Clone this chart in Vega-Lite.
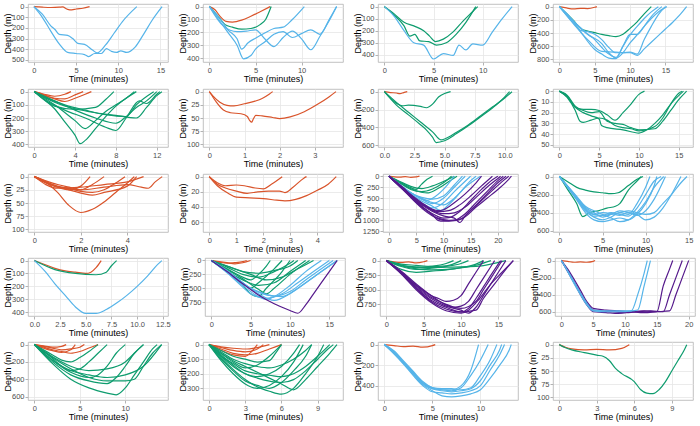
{
"$schema":"https://vega.github.io/schema/vega-lite/v6.json",
"padding":{"left":2,"top":2,"right":0,"bottom":0},
"background":"white",
"config":{
"view":{"stroke":"#b3b3b3","strokeWidth":0.8},
"axis":{"labelFont":"Liberation Sans","labelFontSize":7.5,"labelColor":"#4d4d4d","titleFont":"Liberation Sans","titleFontSize":9,"titleFontWeight":"normal","titleColor":"#000000","tickColor":"#b3b3b3","tickSize":3,"domain":false,"gridColor":"#e6e6e6","gridWidth":0.8,"labelPadding":1,"titlePadding":1,"labelFlush":false,"format":"d"},
"axisY":{"minExtent":15,"maxExtent":15},
"axisX":{"minExtent":11,"maxExtent":11},
"line":{"strokeWidth":1.2,"interpolate":"monotone","clip":true}
},
"datasets":{
"p1":[
{"id":1,"g":"A","t":0,"d":0},{"id":1,"g":"A","t":1,"d":5},{"id":1,"g":"A","t":2,"d":8},{"id":1,"g":"A","t":3,"d":5},{"id":1,"g":"A","t":3.4,"d":2},{"id":1,"g":"A","t":4,"d":25},{"id":1,"g":"A","t":4.5,"d":30},{"id":1,"g":"A","t":5,"d":22},{"id":1,"g":"A","t":5.8,"d":15},{"id":1,"g":"A","t":6.6,"d":0},
{"id":2,"g":"C","t":0,"d":0},{"id":2,"g":"C","t":1,"d":70},{"id":2,"g":"C","t":2,"d":180},{"id":2,"g":"C","t":2.5,"d":215},{"id":2,"g":"C","t":3,"d":260},{"id":2,"g":"C","t":4,"d":270},{"id":2,"g":"C","t":4.6,"d":300},{"id":2,"g":"C","t":5.2,"d":345},{"id":2,"g":"C","t":6,"d":355},{"id":2,"g":"C","t":7,"d":410},{"id":2,"g":"C","t":7.5,"d":435},{"id":2,"g":"C","t":8.5,"d":360},{"id":2,"g":"C","t":9.5,"d":250},{"id":2,"g":"C","t":10.5,"d":140},{"id":2,"g":"C","t":12.2,"d":0},
{"id":3,"g":"C","t":0,"d":0},{"id":3,"g":"C","t":1,"d":100},{"id":3,"g":"C","t":2,"d":230},{"id":3,"g":"C","t":3,"d":350},{"id":3,"g":"C","t":4,"d":430},{"id":3,"g":"C","t":5,"d":440},{"id":3,"g":"C","t":6,"d":450},{"id":3,"g":"C","t":6.5,"d":470},{"id":3,"g":"C","t":7.2,"d":440},{"id":3,"g":"C","t":8,"d":440},{"id":3,"g":"C","t":8.6,"d":395},{"id":3,"g":"C","t":9.2,"d":420},{"id":3,"g":"C","t":9.8,"d":430},{"id":3,"g":"C","t":10.3,"d":415},{"id":3,"g":"C","t":11,"d":430},{"id":3,"g":"C","t":12,"d":380},{"id":3,"g":"C","t":13,"d":260},{"id":3,"g":"C","t":14,"d":130},{"id":3,"g":"C","t":15.2,"d":0}
],
"p2":[
{"id":1,"g":"A","t":0,"d":0},{"id":1,"g":"A","t":0.6,"d":25},{"id":1,"g":"A","t":1.2,"d":80},{"id":1,"g":"A","t":1.8,"d":115},{"id":1,"g":"A","t":2.5,"d":120},{"id":1,"g":"A","t":3.5,"d":105},{"id":1,"g":"A","t":4.5,"d":75},{"id":1,"g":"A","t":5.5,"d":40},{"id":1,"g":"A","t":6.6,"d":0},
{"id":2,"g":"B","t":0,"d":0},{"id":2,"g":"B","t":1,"d":80},{"id":2,"g":"B","t":1.7,"d":140},{"id":2,"g":"B","t":2.5,"d":160},{"id":2,"g":"B","t":3.5,"d":175},{"id":2,"g":"B","t":4.5,"d":170},{"id":2,"g":"B","t":5.5,"d":140},{"id":2,"g":"B","t":6.1,"d":100},{"id":2,"g":"B","t":6.7,"d":0},
{"id":3,"g":"C","t":0,"d":0},{"id":3,"g":"C","t":1,"d":80},{"id":3,"g":"C","t":2,"d":180},{"id":3,"g":"C","t":3,"d":250},{"id":3,"g":"C","t":3.5,"d":330},{"id":3,"g":"C","t":4.2,"d":280},{"id":3,"g":"C","t":5,"d":245},{"id":3,"g":"C","t":6,"d":205},{"id":3,"g":"C","t":7,"d":170},{"id":3,"g":"C","t":8,"d":160},{"id":3,"g":"C","t":9,"d":100},{"id":3,"g":"C","t":10.3,"d":0},
{"id":4,"g":"C","t":0,"d":0},{"id":4,"g":"C","t":1,"d":100},{"id":4,"g":"C","t":2,"d":200},{"id":4,"g":"C","t":3,"d":300},{"id":4,"g":"C","t":3.7,"d":405},{"id":4,"g":"C","t":4.5,"d":380},{"id":4,"g":"C","t":5,"d":330},{"id":4,"g":"C","t":6,"d":275},{"id":4,"g":"C","t":7,"d":215},{"id":4,"g":"C","t":8,"d":195},{"id":4,"g":"C","t":9,"d":240},{"id":4,"g":"C","t":10,"d":210},{"id":4,"g":"C","t":11,"d":180},{"id":4,"g":"C","t":12,"d":215},{"id":4,"g":"C","t":13,"d":100},{"id":4,"g":"C","t":13.8,"d":0},
{"id":5,"g":"C","t":0,"d":0},{"id":5,"g":"C","t":1.5,"d":150},{"id":5,"g":"C","t":3,"d":195},{"id":5,"g":"C","t":4,"d":190},{"id":5,"g":"C","t":5,"d":180},{"id":5,"g":"C","t":6,"d":250},{"id":5,"g":"C","t":7,"d":310},{"id":5,"g":"C","t":8,"d":240},{"id":5,"g":"C","t":9,"d":190},{"id":5,"g":"C","t":10,"d":250},{"id":5,"g":"C","t":11,"d":335},{"id":5,"g":"C","t":12,"d":230},{"id":5,"g":"C","t":13,"d":110},{"id":5,"g":"C","t":13.8,"d":0}
],
"p3":[
{"id":1,"g":"B","t":0,"d":0},{"id":1,"g":"B","t":1,"d":60},{"id":1,"g":"B","t":2,"d":130},{"id":1,"g":"B","t":3,"d":160},{"id":1,"g":"B","t":4,"d":200},{"id":1,"g":"B","t":4.6,"d":245},{"id":1,"g":"B","t":5.2,"d":290},{"id":1,"g":"B","t":6,"d":270},{"id":1,"g":"B","t":7,"d":210},{"id":1,"g":"B","t":8,"d":120},{"id":1,"g":"B","t":9,"d":40},{"id":1,"g":"B","t":9.5,"d":0},
{"id":2,"g":"B","t":0,"d":0},{"id":2,"g":"B","t":1,"d":70},{"id":2,"g":"B","t":2,"d":160},{"id":2,"g":"B","t":2.6,"d":245},{"id":2,"g":"B","t":3.1,"d":230},{"id":2,"g":"B","t":3.6,"d":285},{"id":2,"g":"B","t":4.5,"d":290},{"id":2,"g":"B","t":5.3,"d":320},{"id":2,"g":"B","t":6.3,"d":300},{"id":2,"g":"B","t":7.3,"d":230},{"id":2,"g":"B","t":8.3,"d":130},{"id":2,"g":"B","t":9.3,"d":0},
{"id":3,"g":"C","t":0,"d":0},{"id":3,"g":"C","t":1,"d":80},{"id":3,"g":"C","t":2,"d":200},{"id":3,"g":"C","t":3,"d":300},{"id":3,"g":"C","t":4,"d":320},{"id":3,"g":"C","t":5,"d":435},{"id":3,"g":"C","t":6,"d":390},{"id":3,"g":"C","t":7,"d":405},{"id":3,"g":"C","t":7.6,"d":320},{"id":3,"g":"C","t":8.3,"d":360},{"id":3,"g":"C","t":9,"d":310},{"id":3,"g":"C","t":10,"d":320},{"id":3,"g":"C","t":11,"d":210},{"id":3,"g":"C","t":12,"d":100},{"id":3,"g":"C","t":13,"d":0}
],
"p4":[
{"id":1,"g":"A","t":0,"d":0},{"id":1,"g":"A","t":1,"d":20},{"id":1,"g":"A","t":2,"d":35},{"id":1,"g":"A","t":3,"d":25},{"id":1,"g":"A","t":4,"d":30},{"id":1,"g":"A","t":5,"d":10},{"id":1,"g":"A","t":5.3,"d":0},
{"id":2,"g":"B","t":0,"d":0},{"id":2,"g":"B","t":2,"d":210},{"id":2,"g":"B","t":3,"d":330},{"id":2,"g":"B","t":4,"d":370},{"id":2,"g":"B","t":5,"d":395},{"id":2,"g":"B","t":6,"d":420},{"id":2,"g":"B","t":7,"d":440},{"id":2,"g":"B","t":8,"d":455},{"id":2,"g":"B","t":9,"d":420},{"id":2,"g":"B","t":10,"d":330},{"id":2,"g":"B","t":11,"d":230},{"id":2,"g":"B","t":12,"d":110},{"id":2,"g":"B","t":13,"d":0},
{"id":3,"g":"C","t":0,"d":0},{"id":3,"g":"C","t":1,"d":100},{"id":3,"g":"C","t":2,"d":220},{"id":3,"g":"C","t":3,"d":320},{"id":3,"g":"C","t":4,"d":420},{"id":3,"g":"C","t":5,"d":500},{"id":3,"g":"C","t":6,"d":620},{"id":3,"g":"C","t":7,"d":720},{"id":3,"g":"C","t":8,"d":770},{"id":3,"g":"C","t":9,"d":600},{"id":3,"g":"C","t":10,"d":430},{"id":3,"g":"C","t":11,"d":300},{"id":3,"g":"C","t":12,"d":180},{"id":3,"g":"C","t":13,"d":80},{"id":3,"g":"C","t":14,"d":0},
{"id":4,"g":"C","t":0,"d":0},{"id":4,"g":"C","t":2,"d":250},{"id":4,"g":"C","t":3,"d":360},{"id":4,"g":"C","t":4,"d":380},{"id":4,"g":"C","t":5,"d":420},{"id":4,"g":"C","t":6,"d":500},{"id":4,"g":"C","t":7,"d":620},{"id":4,"g":"C","t":8,"d":700},{"id":4,"g":"C","t":9,"d":700},{"id":4,"g":"C","t":10,"d":690},{"id":4,"g":"C","t":11,"d":720},{"id":4,"g":"C","t":12,"d":500},{"id":4,"g":"C","t":13,"d":300},{"id":4,"g":"C","t":14,"d":120},{"id":4,"g":"C","t":15,"d":0},
{"id":5,"g":"C","t":0,"d":0},{"id":5,"g":"C","t":2,"d":230},{"id":5,"g":"C","t":3,"d":380},{"id":5,"g":"C","t":5,"d":650},{"id":5,"g":"C","t":6,"d":720},{"id":5,"g":"C","t":7,"d":780},{"id":5,"g":"C","t":8,"d":790},{"id":5,"g":"C","t":9,"d":600},{"id":5,"g":"C","t":10,"d":420},{"id":5,"g":"C","t":11,"d":420},{"id":5,"g":"C","t":12,"d":300},{"id":5,"g":"C","t":13,"d":180},{"id":5,"g":"C","t":14,"d":80},{"id":5,"g":"C","t":15.2,"d":0},
{"id":6,"g":"C","t":0,"d":0},{"id":6,"g":"C","t":2,"d":260},{"id":6,"g":"C","t":4,"d":500},{"id":6,"g":"C","t":6,"d":680},{"id":6,"g":"C","t":8,"d":690},{"id":6,"g":"C","t":9,"d":700},{"id":6,"g":"C","t":10,"d":700},{"id":6,"g":"C","t":11,"d":740},{"id":6,"g":"C","t":12,"d":640},{"id":6,"g":"C","t":13,"d":540},{"id":6,"g":"C","t":14,"d":440},{"id":6,"g":"C","t":15,"d":340},{"id":6,"g":"C","t":16,"d":240},{"id":6,"g":"C","t":17,"d":130},{"id":6,"g":"C","t":18,"d":0},
{"id":7,"g":"C","t":0,"d":0},{"id":7,"g":"C","t":2,"d":220},{"id":7,"g":"C","t":4,"d":420},{"id":7,"g":"C","t":6,"d":560},{"id":7,"g":"C","t":7,"d":700},{"id":7,"g":"C","t":8,"d":780},{"id":7,"g":"C","t":9,"d":700},{"id":7,"g":"C","t":10,"d":550},{"id":7,"g":"C","t":11,"d":430},{"id":7,"g":"C","t":12,"d":300},{"id":7,"g":"C","t":13,"d":150},{"id":7,"g":"C","t":14.5,"d":0}
],
"p5":[
{"id":1,"g":"A","t":0,"d":0},{"id":1,"g":"A","t":1,"d":20},{"id":1,"g":"A","t":2,"d":35},{"id":1,"g":"A","t":3,"d":20},{"id":1,"g":"A","t":3.6,"d":0},
{"id":2,"g":"A","t":0,"d":0},{"id":2,"g":"A","t":1,"d":30},{"id":2,"g":"A","t":2,"d":50},{"id":2,"g":"A","t":3,"d":55},{"id":2,"g":"A","t":4,"d":25},{"id":2,"g":"A","t":4.8,"d":0},
{"id":3,"g":"A","t":0,"d":0},{"id":3,"g":"A","t":1,"d":25},{"id":3,"g":"A","t":2,"d":55},{"id":3,"g":"A","t":3,"d":75},{"id":3,"g":"A","t":4,"d":50},{"id":3,"g":"A","t":5,"d":20},{"id":3,"g":"A","t":5.6,"d":0},
{"id":4,"g":"B","t":0,"d":0},{"id":4,"g":"B","t":1,"d":60},{"id":4,"g":"B","t":2,"d":130},{"id":4,"g":"B","t":3,"d":230},{"id":4,"g":"B","t":4,"d":330},{"id":4,"g":"B","t":4.5,"d":395},{"id":4,"g":"B","t":5,"d":370},{"id":4,"g":"B","t":6,"d":280},{"id":4,"g":"B","t":7,"d":190},{"id":4,"g":"B","t":8,"d":110},{"id":4,"g":"B","t":9,"d":50},{"id":4,"g":"B","t":10,"d":0},
{"id":5,"g":"B","t":0,"d":0},{"id":5,"g":"B","t":2,"d":110},{"id":5,"g":"B","t":4,"d":135},{"id":5,"g":"B","t":6,"d":120},{"id":5,"g":"B","t":7,"d":60},{"id":5,"g":"B","t":7.8,"d":0},
{"id":6,"g":"B","t":0,"d":0},{"id":6,"g":"B","t":1,"d":60},{"id":6,"g":"B","t":3,"d":140},{"id":6,"g":"B","t":5,"d":200},{"id":6,"g":"B","t":7,"d":270},{"id":6,"g":"B","t":8,"d":295},{"id":6,"g":"B","t":9,"d":200},{"id":6,"g":"B","t":10.3,"d":70},{"id":6,"g":"B","t":11,"d":90},{"id":6,"g":"B","t":12,"d":20},{"id":6,"g":"B","t":12.3,"d":0},
{"id":7,"g":"B","t":0,"d":0},{"id":7,"g":"B","t":2,"d":80},{"id":7,"g":"B","t":4,"d":130},{"id":7,"g":"B","t":6,"d":160},{"id":7,"g":"B","t":8,"d":180},{"id":7,"g":"B","t":10,"d":200},{"id":7,"g":"B","t":11,"d":120},{"id":7,"g":"B","t":12,"d":30},{"id":7,"g":"B","t":12.5,"d":0},
{"id":8,"g":"B","t":0,"d":0},{"id":8,"g":"B","t":2,"d":100},{"id":8,"g":"B","t":4,"d":220},{"id":8,"g":"B","t":5,"d":280},{"id":8,"g":"B","t":6,"d":220},{"id":8,"g":"B","t":7,"d":150},{"id":8,"g":"B","t":8,"d":100},{"id":8,"g":"B","t":9,"d":50},{"id":8,"g":"B","t":9.8,"d":0},
{"id":9,"g":"B","t":0,"d":0},{"id":9,"g":"B","t":1,"d":40},{"id":9,"g":"B","t":3,"d":100},{"id":9,"g":"B","t":5,"d":140},{"id":9,"g":"B","t":7,"d":175},{"id":9,"g":"B","t":9,"d":190},{"id":9,"g":"B","t":10,"d":100},{"id":9,"g":"B","t":11.7,"d":0},
{"id":10,"g":"B","t":0,"d":0},{"id":10,"g":"B","t":2,"d":70},{"id":10,"g":"B","t":4,"d":140},{"id":10,"g":"B","t":6,"d":200},{"id":10,"g":"B","t":8,"d":240},{"id":10,"g":"B","t":9,"d":190},{"id":10,"g":"B","t":10,"d":120},{"id":10,"g":"B","t":11,"d":70},{"id":10,"g":"B","t":12,"d":0}
],
"p6":[
{"id":1,"g":"A","t":0,"d":0},{"id":1,"g":"A","t":0.1,"d":8},{"id":1,"g":"A","t":0.3,"d":20},{"id":1,"g":"A","t":0.5,"d":26},{"id":1,"g":"A","t":0.7,"d":27},{"id":1,"g":"A","t":1,"d":23},{"id":1,"g":"A","t":1.3,"d":18},{"id":1,"g":"A","t":1.5,"d":13},{"id":1,"g":"A","t":1.7,"d":5},{"id":1,"g":"A","t":1.8,"d":0},
{"id":2,"g":"A","t":0,"d":0},{"id":2,"g":"A","t":0.05,"d":5},{"id":2,"g":"A","t":0.2,"d":20},{"id":2,"g":"A","t":0.4,"d":35},{"id":2,"g":"A","t":0.6,"d":40},{"id":2,"g":"A","t":0.9,"d":42},{"id":2,"g":"A","t":1.08,"d":47},{"id":2,"g":"A","t":1.15,"d":55},{"id":2,"g":"A","t":1.2,"d":58},{"id":2,"g":"A","t":1.25,"d":52},{"id":2,"g":"A","t":1.32,"d":45},{"id":2,"g":"A","t":1.5,"d":46},{"id":2,"g":"A","t":1.8,"d":49},{"id":2,"g":"A","t":2,"d":51},{"id":2,"g":"A","t":2.3,"d":48},{"id":2,"g":"A","t":2.7,"d":38},{"id":2,"g":"A","t":3.1,"d":23},{"id":2,"g":"A","t":3.4,"d":10},{"id":2,"g":"A","t":3.6,"d":0}
],
"p7":[
{"id":1,"g":"A","t":0,"d":0},{"id":1,"g":"A","t":0.5,"d":10},{"id":1,"g":"A","t":1,"d":15},{"id":1,"g":"A","t":1.3,"d":22},{"id":1,"g":"A","t":1.6,"d":10},{"id":1,"g":"A","t":1.9,"d":0},
{"id":2,"g":"B","t":0,"d":0},{"id":2,"g":"B","t":1,"d":130},{"id":2,"g":"B","t":1.5,"d":160},{"id":2,"g":"B","t":2,"d":150},{"id":2,"g":"B","t":3,"d":165},{"id":2,"g":"B","t":3.5,"d":180},{"id":2,"g":"B","t":4,"d":140},{"id":2,"g":"B","t":4.5,"d":60},{"id":2,"g":"B","t":5,"d":20},{"id":2,"g":"B","t":5.5,"d":0},
{"id":3,"g":"B","t":0,"d":0},{"id":3,"g":"B","t":1,"d":150},{"id":3,"g":"B","t":2,"d":260},{"id":3,"g":"B","t":3,"d":370},{"id":3,"g":"B","t":3.5,"d":430},{"id":3,"g":"B","t":4,"d":510},{"id":3,"g":"B","t":4.3,"d":570},{"id":3,"g":"B","t":5,"d":550},{"id":3,"g":"B","t":6,"d":470},{"id":3,"g":"B","t":7,"d":380},{"id":3,"g":"B","t":8,"d":280},{"id":3,"g":"B","t":9,"d":180},{"id":3,"g":"B","t":10,"d":60},{"id":3,"g":"B","t":10.4,"d":0},
{"id":4,"g":"B","t":0,"d":0},{"id":4,"g":"B","t":1,"d":120},{"id":4,"g":"B","t":2,"d":230},{"id":4,"g":"B","t":3,"d":340},{"id":4,"g":"B","t":4,"d":450},{"id":4,"g":"B","t":4.7,"d":540},{"id":4,"g":"B","t":5,"d":530},{"id":4,"g":"B","t":6,"d":455},{"id":4,"g":"B","t":7,"d":370},{"id":4,"g":"B","t":8,"d":270},{"id":4,"g":"B","t":9,"d":170},{"id":4,"g":"B","t":10,"d":70},{"id":4,"g":"B","t":10.6,"d":0}
],
"p8":[
{"id":1,"g":"B","t":0,"d":0},{"id":1,"g":"B","t":1,"d":5},{"id":1,"g":"B","t":2,"d":15},{"id":1,"g":"B","t":3,"d":17},{"id":1,"g":"B","t":4,"d":17},{"id":1,"g":"B","t":5,"d":18},{"id":1,"g":"B","t":6,"d":22},{"id":1,"g":"B","t":7,"d":27},{"id":1,"g":"B","t":8,"d":20},{"id":1,"g":"B","t":9,"d":12},{"id":1,"g":"B","t":10,"d":3},{"id":1,"g":"B","t":10.7,"d":0},
{"id":2,"g":"B","t":0,"d":0},{"id":2,"g":"B","t":1,"d":6},{"id":2,"g":"B","t":2,"d":18},{"id":2,"g":"B","t":2.6,"d":28},{"id":2,"g":"B","t":3,"d":29},{"id":2,"g":"B","t":4,"d":27},{"id":2,"g":"B","t":5,"d":25},{"id":2,"g":"B","t":6,"d":27},{"id":2,"g":"B","t":7,"d":32},{"id":2,"g":"B","t":8,"d":34},{"id":2,"g":"B","t":9,"d":35},{"id":2,"g":"B","t":10,"d":37},{"id":2,"g":"B","t":12,"d":33},{"id":2,"g":"B","t":13,"d":25},{"id":2,"g":"B","t":14,"d":12},{"id":2,"g":"B","t":15,"d":2},{"id":2,"g":"B","t":15.4,"d":0},
{"id":3,"g":"B","t":0,"d":0},{"id":3,"g":"B","t":1,"d":5},{"id":3,"g":"B","t":2,"d":15},{"id":3,"g":"B","t":3,"d":20},{"id":3,"g":"B","t":4,"d":23},{"id":3,"g":"B","t":5,"d":26},{"id":3,"g":"B","t":5.3,"d":32},{"id":3,"g":"B","t":6,"d":34},{"id":3,"g":"B","t":8,"d":36},{"id":3,"g":"B","t":10,"d":39},{"id":3,"g":"B","t":11,"d":36},{"id":3,"g":"B","t":12,"d":30},{"id":3,"g":"B","t":13,"d":22},{"id":3,"g":"B","t":14,"d":12},{"id":3,"g":"B","t":15.6,"d":0},
{"id":4,"g":"B","t":0,"d":0},{"id":4,"g":"B","t":1,"d":4},{"id":4,"g":"B","t":2,"d":14},{"id":4,"g":"B","t":3,"d":18},{"id":4,"g":"B","t":4,"d":20},{"id":4,"g":"B","t":5,"d":19},{"id":4,"g":"B","t":6,"d":28},{"id":4,"g":"B","t":7,"d":30},{"id":4,"g":"B","t":8,"d":31},{"id":4,"g":"B","t":9,"d":34},{"id":4,"g":"B","t":10,"d":36},{"id":4,"g":"B","t":12,"d":35},{"id":4,"g":"B","t":13,"d":28},{"id":4,"g":"B","t":14,"d":18},{"id":4,"g":"B","t":15,"d":8},{"id":4,"g":"B","t":16,"d":0}
],
"p9":[
{"id":1,"g":"A","t":0,"d":0},{"id":1,"g":"A","t":0.5,"d":10},{"id":1,"g":"A","t":1,"d":30},{"id":1,"g":"A","t":1.5,"d":55},{"id":1,"g":"A","t":2,"d":68},{"id":1,"g":"A","t":2.5,"d":62},{"id":1,"g":"A","t":3,"d":48},{"id":1,"g":"A","t":3.5,"d":30},{"id":1,"g":"A","t":4,"d":12},{"id":1,"g":"A","t":4.3,"d":0},
{"id":2,"g":"A","t":0,"d":0},{"id":2,"g":"A","t":0.5,"d":10},{"id":2,"g":"A","t":1,"d":20},{"id":2,"g":"A","t":1.5,"d":25},{"id":2,"g":"A","t":2,"d":18},{"id":2,"g":"A","t":2.4,"d":0},
{"id":3,"g":"A","t":0,"d":0},{"id":3,"g":"A","t":0.5,"d":8},{"id":3,"g":"A","t":1,"d":15},{"id":3,"g":"A","t":1.5,"d":20},{"id":3,"g":"A","t":2,"d":25},{"id":3,"g":"A","t":2.5,"d":15},{"id":3,"g":"A","t":3,"d":0},
{"id":4,"g":"A","t":0,"d":0},{"id":4,"g":"A","t":0.5,"d":12},{"id":4,"g":"A","t":1,"d":20},{"id":4,"g":"A","t":1.5,"d":22},{"id":4,"g":"A","t":2,"d":28},{"id":4,"g":"A","t":2.5,"d":30},{"id":4,"g":"A","t":3,"d":25},{"id":4,"g":"A","t":3.5,"d":12},{"id":4,"g":"A","t":3.9,"d":0},
{"id":5,"g":"A","t":0,"d":0},{"id":5,"g":"A","t":1,"d":22},{"id":5,"g":"A","t":2,"d":20},{"id":5,"g":"A","t":3,"d":15},{"id":5,"g":"A","t":4,"d":10},{"id":5,"g":"A","t":4.7,"d":0},
{"id":6,"g":"A","t":0,"d":0},{"id":6,"g":"A","t":1,"d":18},{"id":6,"g":"A","t":2,"d":25},{"id":6,"g":"A","t":3,"d":20},{"id":6,"g":"A","t":4,"d":15},{"id":6,"g":"A","t":4.6,"d":20},{"id":6,"g":"A","t":4.9,"d":22},{"id":6,"g":"A","t":5.2,"d":10},{"id":6,"g":"A","t":5.5,"d":0},
{"id":7,"g":"A","t":0,"d":0},{"id":7,"g":"A","t":0.7,"d":15},{"id":7,"g":"A","t":1.5,"d":25},{"id":7,"g":"A","t":2.5,"d":35},{"id":7,"g":"A","t":3,"d":30},{"id":7,"g":"A","t":4,"d":18},{"id":7,"g":"A","t":4.4,"d":0}
],
"p10":[
{"id":1,"g":"A","t":0,"d":0},{"id":1,"g":"A","t":0.3,"d":8},{"id":1,"g":"A","t":0.6,"d":12},{"id":1,"g":"A","t":1,"d":11},{"id":1,"g":"A","t":1.3,"d":12},{"id":1,"g":"A","t":1.7,"d":15},{"id":1,"g":"A","t":2,"d":16},{"id":1,"g":"A","t":2.3,"d":10},{"id":1,"g":"A","t":2.7,"d":0},
{"id":2,"g":"A","t":0,"d":0},{"id":2,"g":"A","t":0.3,"d":10},{"id":2,"g":"A","t":0.6,"d":15},{"id":2,"g":"A","t":1,"d":19},{"id":2,"g":"A","t":1.4,"d":22},{"id":2,"g":"A","t":1.8,"d":20},{"id":2,"g":"A","t":2.2,"d":19},{"id":2,"g":"A","t":2.6,"d":19},{"id":2,"g":"A","t":2.8,"d":21},{"id":2,"g":"A","t":3.1,"d":14},{"id":2,"g":"A","t":3.5,"d":2},{"id":2,"g":"A","t":3.6,"d":0},
{"id":3,"g":"A","t":0,"d":0},{"id":3,"g":"A","t":0.3,"d":12},{"id":3,"g":"A","t":0.7,"d":22},{"id":3,"g":"A","t":1,"d":27},{"id":3,"g":"A","t":1.5,"d":28},{"id":3,"g":"A","t":2,"d":29},{"id":3,"g":"A","t":2.5,"d":31},{"id":3,"g":"A","t":2.8,"d":32},{"id":3,"g":"A","t":3.2,"d":30},{"id":3,"g":"A","t":3.6,"d":25},{"id":3,"g":"A","t":4,"d":18},{"id":3,"g":"A","t":4.4,"d":10},{"id":3,"g":"A","t":4.7,"d":0}
],
"p11":[
{"id":1,"g":"A","t":0,"d":0},{"id":1,"g":"A","t":1,"d":15},{"id":1,"g":"A","t":2,"d":20},{"id":1,"g":"A","t":3,"d":10},{"id":1,"g":"A","t":4,"d":25},{"id":1,"g":"A","t":5,"d":15},{"id":1,"g":"A","t":5.6,"d":0},
{"id":2,"g":"B","t":0,"d":0},{"id":2,"g":"B","t":2,"d":130},{"id":2,"g":"B","t":4,"d":260},{"id":2,"g":"B","t":5,"d":300},{"id":2,"g":"B","t":6,"d":180},{"id":2,"g":"B","t":7,"d":70},{"id":2,"g":"B","t":8,"d":0},
{"id":3,"g":"B","t":0,"d":0},{"id":3,"g":"B","t":2,"d":120},{"id":3,"g":"B","t":4,"d":230},{"id":3,"g":"B","t":6,"d":280},{"id":3,"g":"B","t":8,"d":220},{"id":3,"g":"B","t":10,"d":120},{"id":3,"g":"B","t":12,"d":0},
{"id":4,"g":"B","t":0,"d":0},{"id":4,"g":"B","t":3,"d":220},{"id":4,"g":"B","t":5,"d":330},{"id":4,"g":"B","t":7,"d":380},{"id":4,"g":"B","t":9,"d":280},{"id":4,"g":"B","t":11,"d":120},{"id":4,"g":"B","t":12.5,"d":0},
{"id":5,"g":"B","t":0,"d":0},{"id":5,"g":"B","t":2,"d":150},{"id":5,"g":"B","t":4,"d":300},{"id":5,"g":"B","t":6,"d":350},{"id":5,"g":"B","t":8,"d":290},{"id":5,"g":"B","t":10,"d":150},{"id":5,"g":"B","t":11.5,"d":0},
{"id":6,"g":"C","t":0,"d":0},{"id":6,"g":"C","t":3,"d":300},{"id":6,"g":"C","t":5,"d":450},{"id":6,"g":"C","t":7,"d":550},{"id":6,"g":"C","t":8,"d":500},{"id":6,"g":"C","t":10,"d":300},{"id":6,"g":"C","t":12,"d":0},
{"id":7,"g":"C","t":0,"d":0},{"id":7,"g":"C","t":3,"d":280},{"id":7,"g":"C","t":6,"d":520},{"id":7,"g":"C","t":8,"d":620},{"id":7,"g":"C","t":10,"d":500},{"id":7,"g":"C","t":12,"d":250},{"id":7,"g":"C","t":14,"d":0},
{"id":8,"g":"C","t":0,"d":0},{"id":8,"g":"C","t":3,"d":330},{"id":8,"g":"C","t":6,"d":600},{"id":8,"g":"C","t":8,"d":720},{"id":8,"g":"C","t":10,"d":600},{"id":8,"g":"C","t":12,"d":350},{"id":8,"g":"C","t":15,"d":0},
{"id":9,"g":"C","t":0,"d":0},{"id":9,"g":"C","t":3,"d":320},{"id":9,"g":"C","t":6,"d":560},{"id":9,"g":"C","t":8,"d":680},{"id":9,"g":"C","t":9.5,"d":780},{"id":9,"g":"C","t":11,"d":640},{"id":9,"g":"C","t":13,"d":380},{"id":9,"g":"C","t":15,"d":100},{"id":9,"g":"C","t":16,"d":0},
{"id":10,"g":"C","t":0,"d":0},{"id":10,"g":"C","t":3,"d":300},{"id":10,"g":"C","t":6,"d":500},{"id":10,"g":"C","t":8,"d":600},{"id":10,"g":"C","t":10,"d":650},{"id":10,"g":"C","t":12,"d":500},{"id":10,"g":"C","t":14,"d":250},{"id":10,"g":"C","t":16.8,"d":0},
{"id":11,"g":"C","t":0,"d":0},{"id":11,"g":"C","t":2,"d":200},{"id":11,"g":"C","t":4,"d":380},{"id":11,"g":"C","t":6,"d":480},{"id":11,"g":"C","t":8,"d":520},{"id":11,"g":"C","t":10,"d":450},{"id":11,"g":"C","t":12,"d":200},{"id":11,"g":"C","t":13.5,"d":0},
{"id":12,"g":"D","t":0,"d":0},{"id":12,"g":"D","t":3,"d":350},{"id":12,"g":"D","t":6,"d":700},{"id":12,"g":"D","t":8,"d":850},{"id":12,"g":"D","t":10,"d":950},{"id":12,"g":"D","t":11,"d":940},{"id":12,"g":"D","t":13,"d":800},{"id":12,"g":"D","t":15,"d":550},{"id":12,"g":"D","t":17,"d":300},{"id":12,"g":"D","t":19,"d":80},{"id":12,"g":"D","t":20,"d":0},
{"id":13,"g":"D","t":0,"d":0},{"id":13,"g":"D","t":3,"d":330},{"id":13,"g":"D","t":6,"d":680},{"id":13,"g":"D","t":8,"d":880},{"id":13,"g":"D","t":9,"d":1000},{"id":13,"g":"D","t":10,"d":1020},{"id":13,"g":"D","t":12,"d":1000},{"id":13,"g":"D","t":14,"d":850},{"id":13,"g":"D","t":16,"d":600},{"id":13,"g":"D","t":18,"d":350},{"id":13,"g":"D","t":20,"d":100},{"id":13,"g":"D","t":21,"d":0},
{"id":14,"g":"D","t":0,"d":0},{"id":14,"g":"D","t":3,"d":340},{"id":14,"g":"D","t":6,"d":650},{"id":14,"g":"D","t":8,"d":800},{"id":14,"g":"D","t":10,"d":900},{"id":14,"g":"D","t":12,"d":950},{"id":14,"g":"D","t":13,"d":1050},{"id":14,"g":"D","t":14,"d":900},{"id":14,"g":"D","t":16,"d":650},{"id":14,"g":"D","t":18,"d":400},{"id":14,"g":"D","t":20,"d":150},{"id":14,"g":"D","t":21.5,"d":0},
{"id":15,"g":"D","t":0,"d":0},{"id":15,"g":"D","t":3,"d":320},{"id":15,"g":"D","t":6,"d":620},{"id":15,"g":"D","t":8,"d":780},{"id":15,"g":"D","t":10,"d":850},{"id":15,"g":"D","t":12,"d":830},{"id":15,"g":"D","t":14,"d":700},{"id":15,"g":"D","t":16,"d":480},{"id":15,"g":"D","t":18,"d":250},{"id":15,"g":"D","t":20,"d":50},{"id":15,"g":"D","t":20.5,"d":0},
{"id":16,"g":"D","t":0,"d":0},{"id":16,"g":"D","t":3,"d":300},{"id":16,"g":"D","t":5,"d":550},{"id":16,"g":"D","t":7,"d":700},{"id":16,"g":"D","t":9,"d":800},{"id":16,"g":"D","t":11,"d":780},{"id":16,"g":"D","t":13,"d":650},{"id":16,"g":"D","t":15,"d":450},{"id":16,"g":"D","t":17,"d":220},{"id":16,"g":"D","t":19,"d":0},
{"id":17,"g":"D","t":0,"d":0},{"id":17,"g":"D","t":3,"d":360},{"id":17,"g":"D","t":6,"d":720},{"id":17,"g":"D","t":8,"d":900},{"id":17,"g":"D","t":10,"d":1000},{"id":17,"g":"D","t":12,"d":1010},{"id":17,"g":"D","t":14,"d":920},{"id":17,"g":"D","t":16,"d":700},{"id":17,"g":"D","t":18,"d":500},{"id":17,"g":"D","t":20,"d":300},{"id":17,"g":"D","t":22,"d":70},{"id":17,"g":"D","t":22.5,"d":0},
{"id":18,"g":"D","t":0,"d":0},{"id":18,"g":"D","t":3,"d":320},{"id":18,"g":"D","t":6,"d":600},{"id":18,"g":"D","t":8,"d":750},{"id":18,"g":"D","t":9,"d":780},{"id":18,"g":"D","t":10,"d":760},{"id":18,"g":"D","t":12,"d":600},{"id":18,"g":"D","t":14,"d":400},{"id":18,"g":"D","t":16,"d":150},{"id":18,"g":"D","t":17,"d":0},
{"id":19,"g":"D","t":0,"d":0},{"id":19,"g":"D","t":3,"d":340},{"id":19,"g":"D","t":6,"d":680},{"id":19,"g":"D","t":9,"d":950},{"id":19,"g":"D","t":11,"d":1000},{"id":19,"g":"D","t":13,"d":980},{"id":19,"g":"D","t":15,"d":780},{"id":19,"g":"D","t":17,"d":550},{"id":19,"g":"D","t":19,"d":320},{"id":19,"g":"D","t":21,"d":100},{"id":19,"g":"D","t":22,"d":0}
],
"p12":[
{"id":1,"g":"B","t":0,"d":0},{"id":1,"g":"B","t":1,"d":60},{"id":1,"g":"B","t":2,"d":120},{"id":1,"g":"B","t":3,"d":150},{"id":1,"g":"B","t":4,"d":170},{"id":1,"g":"B","t":5,"d":180},{"id":1,"g":"B","t":6,"d":190},{"id":1,"g":"B","t":6.8,"d":180},{"id":1,"g":"B","t":8,"d":100},{"id":1,"g":"B","t":9,"d":30},{"id":1,"g":"B","t":9.7,"d":0},
{"id":2,"g":"B","t":0,"d":0},{"id":2,"g":"B","t":1,"d":150},{"id":2,"g":"B","t":2,"d":300},{"id":2,"g":"B","t":2.7,"d":445},{"id":2,"g":"B","t":3.5,"d":400},{"id":2,"g":"B","t":4.5,"d":380},{"id":2,"g":"B","t":5.5,"d":350},{"id":2,"g":"B","t":6.5,"d":330},{"id":2,"g":"B","t":7,"d":300},{"id":2,"g":"B","t":8,"d":150},{"id":2,"g":"B","t":9,"d":50},{"id":2,"g":"B","t":9.5,"d":0},
{"id":3,"g":"C","t":0,"d":0},{"id":3,"g":"C","t":2,"d":250},{"id":3,"g":"C","t":3,"d":380},{"id":3,"g":"C","t":4,"d":450},{"id":3,"g":"C","t":5,"d":480},{"id":3,"g":"C","t":6,"d":450},{"id":3,"g":"C","t":7,"d":400},{"id":3,"g":"C","t":8,"d":420},{"id":3,"g":"C","t":9,"d":300},{"id":3,"g":"C","t":10,"d":120},{"id":3,"g":"C","t":10.5,"d":0},
{"id":4,"g":"C","t":0,"d":0},{"id":4,"g":"C","t":2,"d":260},{"id":4,"g":"C","t":3,"d":400},{"id":4,"g":"C","t":4,"d":480},{"id":4,"g":"C","t":5,"d":500},{"id":4,"g":"C","t":6,"d":480},{"id":4,"g":"C","t":7,"d":460},{"id":4,"g":"C","t":8,"d":480},{"id":4,"g":"C","t":9,"d":420},{"id":4,"g":"C","t":10,"d":300},{"id":4,"g":"C","t":11,"d":100},{"id":4,"g":"C","t":11.3,"d":0},
{"id":5,"g":"C","t":0,"d":0},{"id":5,"g":"C","t":2,"d":240},{"id":5,"g":"C","t":3,"d":350},{"id":5,"g":"C","t":4,"d":420},{"id":5,"g":"C","t":5,"d":430},{"id":5,"g":"C","t":6,"d":400},{"id":5,"g":"C","t":7,"d":420},{"id":5,"g":"C","t":8,"d":440},{"id":5,"g":"C","t":9,"d":350},{"id":5,"g":"C","t":10,"d":200},{"id":5,"g":"C","t":11,"d":50},{"id":5,"g":"C","t":11.8,"d":0},
{"id":6,"g":"C","t":0,"d":0},{"id":6,"g":"C","t":2,"d":220},{"id":6,"g":"C","t":3,"d":330},{"id":6,"g":"C","t":4,"d":380},{"id":6,"g":"C","t":5,"d":420},{"id":6,"g":"C","t":6,"d":460},{"id":6,"g":"C","t":7,"d":500},{"id":6,"g":"C","t":8,"d":480},{"id":6,"g":"C","t":9,"d":400},{"id":6,"g":"C","t":10,"d":280},{"id":6,"g":"C","t":11,"d":120},{"id":6,"g":"C","t":12.1,"d":0},
{"id":7,"g":"C","t":0,"d":0},{"id":7,"g":"C","t":2,"d":230},{"id":7,"g":"C","t":3,"d":340},{"id":7,"g":"C","t":4,"d":400},{"id":7,"g":"C","t":5,"d":450},{"id":7,"g":"C","t":6,"d":420},{"id":7,"g":"C","t":7,"d":380},{"id":7,"g":"C","t":8,"d":400},{"id":7,"g":"C","t":9,"d":430},{"id":7,"g":"C","t":10,"d":380},{"id":7,"g":"C","t":11,"d":250},{"id":7,"g":"C","t":12.3,"d":0},
{"id":8,"g":"C","t":0,"d":0},{"id":8,"g":"C","t":2,"d":240},{"id":8,"g":"C","t":3,"d":370},{"id":8,"g":"C","t":4,"d":420},{"id":8,"g":"C","t":5,"d":400},{"id":8,"g":"C","t":6,"d":410},{"id":8,"g":"C","t":7,"d":430},{"id":8,"g":"C","t":8,"d":400},{"id":8,"g":"C","t":9,"d":420},{"id":8,"g":"C","t":10,"d":480},{"id":8,"g":"C","t":11,"d":450},{"id":8,"g":"C","t":12,"d":350},{"id":8,"g":"C","t":13,"d":200},{"id":8,"g":"C","t":14.1,"d":0},
{"id":9,"g":"C","t":0,"d":0},{"id":9,"g":"C","t":2,"d":230},{"id":9,"g":"C","t":3,"d":360},{"id":9,"g":"C","t":4,"d":440},{"id":9,"g":"C","t":5,"d":430},{"id":9,"g":"C","t":6,"d":420},{"id":9,"g":"C","t":7,"d":400},{"id":9,"g":"C","t":8,"d":380},{"id":9,"g":"C","t":9,"d":400},{"id":9,"g":"C","t":10,"d":420},{"id":9,"g":"C","t":11,"d":400},{"id":9,"g":"C","t":12,"d":300},{"id":9,"g":"C","t":13,"d":200},{"id":9,"g":"C","t":14,"d":80},{"id":9,"g":"C","t":14.8,"d":0}
],
"p13":[
{"id":1,"g":"A","t":0,"d":0},{"id":1,"g":"A","t":1,"d":30},{"id":1,"g":"A","t":2,"d":60},{"id":1,"g":"A","t":3,"d":80},{"id":1,"g":"A","t":4,"d":90},{"id":1,"g":"A","t":5,"d":100},{"id":1,"g":"A","t":5.5,"d":90},{"id":1,"g":"A","t":6,"d":55},{"id":1,"g":"A","t":6.5,"d":0},
{"id":2,"g":"B","t":0,"d":0},{"id":2,"g":"B","t":2,"d":70},{"id":2,"g":"B","t":4,"d":100},{"id":2,"g":"B","t":6,"d":110},{"id":2,"g":"B","t":7,"d":90},{"id":2,"g":"B","t":7.5,"d":40},{"id":2,"g":"B","t":8,"d":0},
{"id":3,"g":"C","t":0,"d":0},{"id":3,"g":"C","t":1,"d":80},{"id":3,"g":"C","t":2,"d":180},{"id":3,"g":"C","t":3,"d":270},{"id":3,"g":"C","t":4,"d":360},{"id":3,"g":"C","t":5,"d":410},{"id":3,"g":"C","t":6,"d":410},{"id":3,"g":"C","t":7,"d":380},{"id":3,"g":"C","t":8,"d":330},{"id":3,"g":"C","t":9,"d":270},{"id":3,"g":"C","t":10,"d":200},{"id":3,"g":"C","t":11,"d":120},{"id":3,"g":"C","t":12,"d":30},{"id":3,"g":"C","t":12.4,"d":0}
],
"p14":[
{"id":1,"g":"A","t":0,"d":0},{"id":1,"g":"A","t":1,"d":30},{"id":1,"g":"A","t":2,"d":50},{"id":1,"g":"A","t":3,"d":40},{"id":1,"g":"A","t":4,"d":20},{"id":1,"g":"A","t":4.5,"d":0},
{"id":2,"g":"A","t":0,"d":0},{"id":2,"g":"A","t":1,"d":20},{"id":2,"g":"A","t":2,"d":40},{"id":2,"g":"A","t":3,"d":60},{"id":2,"g":"A","t":4,"d":40},{"id":2,"g":"A","t":5,"d":0},
{"id":3,"g":"B","t":0,"d":0},{"id":3,"g":"B","t":2,"d":150},{"id":3,"g":"B","t":4,"d":300},{"id":3,"g":"B","t":5,"d":350},{"id":3,"g":"B","t":6,"d":250},{"id":3,"g":"B","t":7,"d":100},{"id":3,"g":"B","t":7.5,"d":0},
{"id":4,"g":"B","t":0,"d":0},{"id":4,"g":"B","t":2,"d":180},{"id":4,"g":"B","t":4,"d":400},{"id":4,"g":"B","t":5,"d":500},{"id":4,"g":"B","t":6,"d":400},{"id":4,"g":"B","t":8,"d":150},{"id":4,"g":"B","t":9,"d":0},
{"id":5,"g":"B","t":0,"d":0},{"id":5,"g":"B","t":2,"d":200},{"id":5,"g":"B","t":4,"d":450},{"id":5,"g":"B","t":5,"d":600},{"id":5,"g":"B","t":6,"d":650},{"id":5,"g":"B","t":7,"d":500},{"id":5,"g":"B","t":9,"d":200},{"id":5,"g":"B","t":10,"d":0},
{"id":6,"g":"B","t":0,"d":0},{"id":6,"g":"B","t":2,"d":120},{"id":6,"g":"B","t":4,"d":250},{"id":6,"g":"B","t":6,"d":300},{"id":6,"g":"B","t":8,"d":200},{"id":6,"g":"B","t":10,"d":50},{"id":6,"g":"B","t":10.5,"d":0},
{"id":7,"g":"B","t":0,"d":0},{"id":7,"g":"B","t":2,"d":100},{"id":7,"g":"B","t":4,"d":200},{"id":7,"g":"B","t":6,"d":230},{"id":7,"g":"B","t":8,"d":180},{"id":7,"g":"B","t":10,"d":100},{"id":7,"g":"B","t":11,"d":0},
{"id":8,"g":"B","t":0,"d":0},{"id":8,"g":"B","t":2,"d":200},{"id":8,"g":"B","t":4,"d":350},{"id":8,"g":"B","t":6,"d":450},{"id":8,"g":"B","t":8,"d":400},{"id":8,"g":"B","t":10,"d":200},{"id":8,"g":"B","t":12,"d":0},
{"id":9,"g":"B","t":0,"d":0},{"id":9,"g":"B","t":2,"d":160},{"id":9,"g":"B","t":4,"d":330},{"id":9,"g":"B","t":6,"d":520},{"id":9,"g":"B","t":7,"d":600},{"id":9,"g":"B","t":8,"d":500},{"id":9,"g":"B","t":10,"d":250},{"id":9,"g":"B","t":12.5,"d":0},
{"id":10,"g":"B","t":0,"d":0},{"id":10,"g":"B","t":3,"d":150},{"id":10,"g":"B","t":5,"d":250},{"id":10,"g":"B","t":7,"d":350},{"id":10,"g":"B","t":9,"d":300},{"id":10,"g":"B","t":11,"d":150},{"id":10,"g":"B","t":13,"d":0},
{"id":11,"g":"C","t":0,"d":0},{"id":11,"g":"C","t":2,"d":200},{"id":11,"g":"C","t":4,"d":450},{"id":11,"g":"C","t":6,"d":650},{"id":11,"g":"C","t":7,"d":700},{"id":11,"g":"C","t":8,"d":650},{"id":11,"g":"C","t":10,"d":450},{"id":11,"g":"C","t":12,"d":200},{"id":11,"g":"C","t":14,"d":0},
{"id":12,"g":"C","t":0,"d":0},{"id":12,"g":"C","t":2,"d":180},{"id":12,"g":"C","t":4,"d":400},{"id":12,"g":"C","t":6,"d":600},{"id":12,"g":"C","t":8,"d":720},{"id":12,"g":"C","t":10,"d":600},{"id":12,"g":"C","t":12,"d":400},{"id":12,"g":"C","t":14,"d":200},{"id":12,"g":"C","t":16,"d":0},
{"id":13,"g":"C","t":0,"d":0},{"id":13,"g":"C","t":2,"d":220},{"id":13,"g":"C","t":4,"d":480},{"id":13,"g":"C","t":5,"d":600},{"id":13,"g":"C","t":7,"d":680},{"id":13,"g":"C","t":9,"d":600},{"id":13,"g":"C","t":11,"d":400},{"id":13,"g":"C","t":13,"d":200},{"id":13,"g":"C","t":15,"d":0},
{"id":14,"g":"C","t":0,"d":0},{"id":14,"g":"C","t":2,"d":200},{"id":14,"g":"C","t":4,"d":420},{"id":14,"g":"C","t":6,"d":560},{"id":14,"g":"C","t":8,"d":640},{"id":14,"g":"C","t":10,"d":560},{"id":14,"g":"C","t":12,"d":350},{"id":14,"g":"C","t":14,"d":150},{"id":14,"g":"C","t":15.5,"d":0},
{"id":15,"g":"C","t":0,"d":0},{"id":15,"g":"C","t":3,"d":300},{"id":15,"g":"C","t":5,"d":500},{"id":15,"g":"C","t":7,"d":620},{"id":15,"g":"C","t":9,"d":650},{"id":15,"g":"C","t":11,"d":500},{"id":15,"g":"C","t":13,"d":300},{"id":15,"g":"C","t":15,"d":100},{"id":15,"g":"C","t":16,"d":0},
{"id":16,"g":"D","t":0,"d":0},{"id":16,"g":"D","t":2,"d":200},{"id":16,"g":"D","t":4,"d":420},{"id":16,"g":"D","t":6,"d":620},{"id":16,"g":"D","t":8,"d":780},{"id":16,"g":"D","t":10,"d":900},{"id":16,"g":"D","t":11,"d":950},{"id":16,"g":"D","t":12,"d":800},{"id":16,"g":"D","t":13,"d":600},{"id":16,"g":"D","t":14,"d":400},{"id":16,"g":"D","t":15,"d":200},{"id":16,"g":"D","t":16,"d":0}
],
"p15":[
{"id":1,"g":"A","t":0,"d":0},{"id":1,"g":"A","t":1,"d":20},{"id":1,"g":"A","t":2,"d":30},{"id":1,"g":"A","t":3,"d":20},{"id":1,"g":"A","t":4,"d":40},{"id":1,"g":"A","t":5,"d":20},{"id":1,"g":"A","t":5.5,"d":0},
{"id":2,"g":"B","t":0,"d":0},{"id":2,"g":"B","t":2,"d":80},{"id":2,"g":"B","t":4,"d":120},{"id":2,"g":"B","t":6,"d":100},{"id":2,"g":"B","t":8,"d":50},{"id":2,"g":"B","t":9,"d":0},
{"id":3,"g":"B","t":0,"d":0},{"id":3,"g":"B","t":2,"d":100},{"id":3,"g":"B","t":4,"d":150},{"id":3,"g":"B","t":6,"d":130},{"id":3,"g":"B","t":8,"d":100},{"id":3,"g":"B","t":10,"d":50},{"id":3,"g":"B","t":11,"d":0},
{"id":4,"g":"B","t":0,"d":0},{"id":4,"g":"B","t":3,"d":120},{"id":4,"g":"B","t":6,"d":160},{"id":4,"g":"B","t":9,"d":140},{"id":4,"g":"B","t":12,"d":80},{"id":4,"g":"B","t":14,"d":0},
{"id":5,"g":"B","t":0,"d":0},{"id":5,"g":"B","t":2,"d":60},{"id":5,"g":"B","t":4,"d":80},{"id":5,"g":"B","t":6,"d":100},{"id":5,"g":"B","t":8,"d":90},{"id":5,"g":"B","t":10,"d":0},
{"id":6,"g":"B","t":0,"d":0},{"id":6,"g":"B","t":2,"d":150},{"id":6,"g":"B","t":4,"d":200},{"id":6,"g":"B","t":6,"d":180},{"id":6,"g":"B","t":8,"d":160},{"id":6,"g":"B","t":10,"d":120},{"id":6,"g":"B","t":12,"d":60},{"id":6,"g":"B","t":13,"d":0},
{"id":7,"g":"B","t":0,"d":0},{"id":7,"g":"B","t":3,"d":100},{"id":7,"g":"B","t":6,"d":120},{"id":7,"g":"B","t":9,"d":110},{"id":7,"g":"B","t":12,"d":100},{"id":7,"g":"B","t":15,"d":30},{"id":7,"g":"B","t":16,"d":0},
{"id":8,"g":"D","t":0,"d":0},{"id":8,"g":"D","t":2,"d":200},{"id":8,"g":"D","t":4,"d":450},{"id":8,"g":"D","t":6,"d":650},{"id":8,"g":"D","t":8,"d":780},{"id":8,"g":"D","t":10,"d":850},{"id":8,"g":"D","t":11,"d":900},{"id":8,"g":"D","t":12,"d":800},{"id":8,"g":"D","t":13,"d":600},{"id":8,"g":"D","t":14,"d":400},{"id":8,"g":"D","t":15,"d":200},{"id":8,"g":"D","t":16,"d":0},
{"id":9,"g":"D","t":0,"d":0},{"id":9,"g":"D","t":2,"d":220},{"id":9,"g":"D","t":4,"d":480},{"id":9,"g":"D","t":6,"d":700},{"id":9,"g":"D","t":8,"d":830},{"id":9,"g":"D","t":10,"d":880},{"id":9,"g":"D","t":12,"d":850},{"id":9,"g":"D","t":13,"d":650},{"id":9,"g":"D","t":14.5,"d":400},{"id":9,"g":"D","t":16,"d":150},{"id":9,"g":"D","t":17,"d":0},
{"id":10,"g":"D","t":0,"d":0},{"id":10,"g":"D","t":2,"d":180},{"id":10,"g":"D","t":4,"d":400},{"id":10,"g":"D","t":6,"d":600},{"id":10,"g":"D","t":8,"d":760},{"id":10,"g":"D","t":9,"d":800},{"id":10,"g":"D","t":10,"d":780},{"id":10,"g":"D","t":11,"d":700},{"id":10,"g":"D","t":12,"d":500},{"id":10,"g":"D","t":13,"d":300},{"id":10,"g":"D","t":14,"d":100},{"id":10,"g":"D","t":14.5,"d":0},
{"id":11,"g":"D","t":0,"d":0},{"id":11,"g":"D","t":2,"d":200},{"id":11,"g":"D","t":4,"d":430},{"id":11,"g":"D","t":6,"d":630},{"id":11,"g":"D","t":8,"d":750},{"id":11,"g":"D","t":10,"d":820},{"id":11,"g":"D","t":12,"d":700},{"id":11,"g":"D","t":13,"d":500},{"id":11,"g":"D","t":14,"d":300},{"id":11,"g":"D","t":15,"d":100},{"id":11,"g":"D","t":15.5,"d":0},
{"id":12,"g":"D","t":0,"d":0},{"id":12,"g":"D","t":2,"d":210},{"id":12,"g":"D","t":4,"d":470},{"id":12,"g":"D","t":6,"d":680},{"id":12,"g":"D","t":8,"d":800},{"id":12,"g":"D","t":9,"d":850},{"id":12,"g":"D","t":10,"d":880},{"id":12,"g":"D","t":11,"d":820},{"id":12,"g":"D","t":12,"d":650},{"id":12,"g":"D","t":13,"d":450},{"id":12,"g":"D","t":14,"d":250},{"id":12,"g":"D","t":15.3,"d":0},
{"id":13,"g":"D","t":0,"d":0},{"id":13,"g":"D","t":2,"d":190},{"id":13,"g":"D","t":4,"d":420},{"id":13,"g":"D","t":6,"d":600},{"id":13,"g":"D","t":7,"d":650},{"id":13,"g":"D","t":8,"d":700},{"id":13,"g":"D","t":9,"d":680},{"id":13,"g":"D","t":10,"d":600},{"id":13,"g":"D","t":11,"d":400},{"id":13,"g":"D","t":12,"d":200},{"id":13,"g":"D","t":13,"d":0},
{"id":14,"g":"D","t":0,"d":0},{"id":14,"g":"D","t":2,"d":230},{"id":14,"g":"D","t":4,"d":500},{"id":14,"g":"D","t":6,"d":720},{"id":14,"g":"D","t":8,"d":860},{"id":14,"g":"D","t":10,"d":900},{"id":14,"g":"D","t":11,"d":850},{"id":14,"g":"D","t":12.5,"d":650},{"id":14,"g":"D","t":14,"d":400},{"id":14,"g":"D","t":15.5,"d":200},{"id":14,"g":"D","t":17,"d":0}
],
"p16":[
{"id":1,"g":"A","t":0,"d":0},{"id":1,"g":"A","t":1,"d":10},{"id":1,"g":"A","t":2,"d":20},{"id":1,"g":"A","t":3,"d":15},{"id":1,"g":"A","t":4,"d":20},{"id":1,"g":"A","t":5,"d":10},{"id":1,"g":"A","t":5.3,"d":0},
{"id":2,"g":"D","t":0,"d":0},{"id":2,"g":"D","t":1,"d":120},{"id":2,"g":"D","t":2,"d":250},{"id":2,"g":"D","t":3,"d":380},{"id":2,"g":"D","t":4,"d":500},{"id":2,"g":"D","t":5,"d":580},{"id":2,"g":"D","t":6,"d":590},{"id":2,"g":"D","t":8,"d":600},{"id":2,"g":"D","t":10,"d":610},{"id":2,"g":"D","t":12,"d":600},{"id":2,"g":"D","t":14,"d":590},{"id":2,"g":"D","t":16,"d":600},{"id":2,"g":"D","t":17,"d":400},{"id":2,"g":"D","t":18,"d":200},{"id":2,"g":"D","t":19,"d":0},
{"id":3,"g":"D","t":0,"d":0},{"id":3,"g":"D","t":1,"d":100},{"id":3,"g":"D","t":2,"d":220},{"id":3,"g":"D","t":3,"d":350},{"id":3,"g":"D","t":4,"d":480},{"id":3,"g":"D","t":5,"d":560},{"id":3,"g":"D","t":7,"d":580},{"id":3,"g":"D","t":9,"d":590},{"id":3,"g":"D","t":11,"d":600},{"id":3,"g":"D","t":13,"d":610},{"id":3,"g":"D","t":15,"d":600},{"id":3,"g":"D","t":17,"d":590},{"id":3,"g":"D","t":18,"d":400},{"id":3,"g":"D","t":19,"d":200},{"id":3,"g":"D","t":20,"d":0},
{"id":4,"g":"D","t":0,"d":0},{"id":4,"g":"D","t":1,"d":130},{"id":4,"g":"D","t":2,"d":260},{"id":4,"g":"D","t":3,"d":400},{"id":4,"g":"D","t":4,"d":520},{"id":4,"g":"D","t":5,"d":600},{"id":4,"g":"D","t":7,"d":610},{"id":4,"g":"D","t":9,"d":620},{"id":4,"g":"D","t":11,"d":600},{"id":4,"g":"D","t":13,"d":590},{"id":4,"g":"D","t":15,"d":600},{"id":4,"g":"D","t":16,"d":300},{"id":4,"g":"D","t":17,"d":100},{"id":4,"g":"D","t":17.5,"d":0},
{"id":5,"g":"C","t":0,"d":0},{"id":5,"g":"C","t":1,"d":130},{"id":5,"g":"C","t":2,"d":270},{"id":5,"g":"C","t":3,"d":400},{"id":5,"g":"C","t":4,"d":520},{"id":5,"g":"C","t":5,"d":590},{"id":5,"g":"C","t":7,"d":600},{"id":5,"g":"C","t":9,"d":600},{"id":5,"g":"C","t":11,"d":590},{"id":5,"g":"C","t":12,"d":400},{"id":5,"g":"C","t":13,"d":150},{"id":5,"g":"C","t":13.5,"d":0},
{"id":6,"g":"C","t":0,"d":0},{"id":6,"g":"C","t":1,"d":120},{"id":6,"g":"C","t":2,"d":250},{"id":6,"g":"C","t":3,"d":380},{"id":6,"g":"C","t":4,"d":500},{"id":6,"g":"C","t":5,"d":580},{"id":6,"g":"C","t":8,"d":590},{"id":6,"g":"C","t":11,"d":590},{"id":6,"g":"C","t":12,"d":580},{"id":6,"g":"C","t":13,"d":300},{"id":6,"g":"C","t":14,"d":0}
],
"p17":[
{"id":1,"g":"A","t":0,"d":0},{"id":1,"g":"A","t":1,"d":20},{"id":1,"g":"A","t":2,"d":40},{"id":1,"g":"A","t":3,"d":60},{"id":1,"g":"A","t":4,"d":50},{"id":1,"g":"A","t":5,"d":30},{"id":1,"g":"A","t":5.5,"d":0},
{"id":2,"g":"A","t":0,"d":0},{"id":2,"g":"A","t":1,"d":30},{"id":2,"g":"A","t":2,"d":60},{"id":2,"g":"A","t":3,"d":80},{"id":2,"g":"A","t":4,"d":100},{"id":2,"g":"A","t":5,"d":80},{"id":2,"g":"A","t":6,"d":40},{"id":2,"g":"A","t":7,"d":0},
{"id":3,"g":"A","t":0,"d":0},{"id":3,"g":"A","t":1,"d":15},{"id":3,"g":"A","t":2,"d":30},{"id":3,"g":"A","t":3,"d":20},{"id":3,"g":"A","t":3.5,"d":0},
{"id":4,"g":"A","t":0,"d":0},{"id":4,"g":"A","t":1,"d":40},{"id":4,"g":"A","t":2,"d":70},{"id":4,"g":"A","t":3,"d":90},{"id":4,"g":"A","t":4,"d":60},{"id":4,"g":"A","t":4.5,"d":0},
{"id":5,"g":"B","t":0,"d":0},{"id":5,"g":"B","t":1,"d":60},{"id":5,"g":"B","t":2,"d":120},{"id":5,"g":"B","t":3,"d":180},{"id":5,"g":"B","t":4,"d":200},{"id":5,"g":"B","t":5,"d":150},{"id":5,"g":"B","t":6,"d":80},{"id":5,"g":"B","t":7,"d":0},
{"id":6,"g":"B","t":0,"d":0},{"id":6,"g":"B","t":1,"d":80},{"id":6,"g":"B","t":2,"d":160},{"id":6,"g":"B","t":3,"d":250},{"id":6,"g":"B","t":4,"d":300},{"id":6,"g":"B","t":5,"d":280},{"id":6,"g":"B","t":6,"d":200},{"id":6,"g":"B","t":7,"d":100},{"id":6,"g":"B","t":8,"d":0},
{"id":7,"g":"B","t":0,"d":0},{"id":7,"g":"B","t":2,"d":180},{"id":7,"g":"B","t":4,"d":320},{"id":7,"g":"B","t":6,"d":380},{"id":7,"g":"B","t":7,"d":350},{"id":7,"g":"B","t":8,"d":250},{"id":7,"g":"B","t":9,"d":100},{"id":7,"g":"B","t":10,"d":0},
{"id":8,"g":"B","t":0,"d":0},{"id":8,"g":"B","t":2,"d":200},{"id":8,"g":"B","t":4,"d":350},{"id":8,"g":"B","t":6,"d":420},{"id":8,"g":"B","t":8,"d":450},{"id":8,"g":"B","t":9,"d":380},{"id":8,"g":"B","t":10,"d":250},{"id":8,"g":"B","t":11,"d":100},{"id":8,"g":"B","t":12,"d":0},
{"id":9,"g":"B","t":0,"d":0},{"id":9,"g":"B","t":2,"d":220},{"id":9,"g":"B","t":4,"d":400},{"id":9,"g":"B","t":6,"d":500},{"id":9,"g":"B","t":8,"d":560},{"id":9,"g":"B","t":9,"d":580},{"id":9,"g":"B","t":10,"d":500},{"id":9,"g":"B","t":11,"d":350},{"id":9,"g":"B","t":12,"d":200},{"id":9,"g":"B","t":13,"d":50},{"id":9,"g":"B","t":13.5,"d":0},
{"id":10,"g":"B","t":0,"d":0},{"id":10,"g":"B","t":2,"d":150},{"id":10,"g":"B","t":4,"d":280},{"id":10,"g":"B","t":6,"d":380},{"id":10,"g":"B","t":8,"d":420},{"id":10,"g":"B","t":10,"d":420},{"id":10,"g":"B","t":11,"d":400},{"id":10,"g":"B","t":12,"d":250},{"id":10,"g":"B","t":13,"d":100},{"id":10,"g":"B","t":14,"d":0},
{"id":11,"g":"B","t":0,"d":0},{"id":11,"g":"B","t":2,"d":180},{"id":11,"g":"B","t":4,"d":300},{"id":11,"g":"B","t":6,"d":350},{"id":11,"g":"B","t":8,"d":380},{"id":11,"g":"B","t":10,"d":350},{"id":11,"g":"B","t":12,"d":250},{"id":11,"g":"B","t":14,"d":0},
{"id":12,"g":"B","t":0,"d":0},{"id":12,"g":"B","t":2,"d":140},{"id":12,"g":"B","t":4,"d":250},{"id":12,"g":"B","t":6,"d":300},{"id":12,"g":"B","t":8,"d":280},{"id":12,"g":"B","t":10,"d":200},{"id":12,"g":"B","t":11,"d":100},{"id":12,"g":"B","t":12,"d":0}
],
"p18":[
{"id":1,"g":"A","t":0,"d":0},{"id":1,"g":"A","t":1,"d":20},{"id":1,"g":"A","t":2,"d":40},{"id":1,"g":"A","t":3,"d":50},{"id":1,"g":"A","t":4,"d":30},{"id":1,"g":"A","t":4.5,"d":0},
{"id":2,"g":"A","t":0,"d":0},{"id":2,"g":"A","t":1,"d":30},{"id":2,"g":"A","t":2,"d":60},{"id":2,"g":"A","t":3,"d":70},{"id":2,"g":"A","t":4,"d":60},{"id":2,"g":"A","t":5,"d":30},{"id":2,"g":"A","t":6,"d":0},
{"id":3,"g":"A","t":0,"d":0},{"id":3,"g":"A","t":1,"d":15},{"id":3,"g":"A","t":2,"d":25},{"id":3,"g":"A","t":3,"d":30},{"id":3,"g":"A","t":4,"d":20},{"id":3,"g":"A","t":5,"d":0},
{"id":4,"g":"A","t":0,"d":0},{"id":4,"g":"A","t":1,"d":40},{"id":4,"g":"A","t":2,"d":70},{"id":4,"g":"A","t":3,"d":80},{"id":4,"g":"A","t":3.5,"d":50},{"id":4,"g":"A","t":4,"d":0},
{"id":5,"g":"B","t":0,"d":0},{"id":5,"g":"B","t":1,"d":60},{"id":5,"g":"B","t":2,"d":120},{"id":5,"g":"B","t":3,"d":160},{"id":5,"g":"B","t":4,"d":140},{"id":5,"g":"B","t":5,"d":80},{"id":5,"g":"B","t":6,"d":0},
{"id":6,"g":"B","t":0,"d":0},{"id":6,"g":"B","t":1,"d":80},{"id":6,"g":"B","t":2,"d":150},{"id":6,"g":"B","t":3,"d":200},{"id":6,"g":"B","t":4,"d":220},{"id":6,"g":"B","t":5,"d":200},{"id":6,"g":"B","t":6,"d":150},{"id":6,"g":"B","t":7,"d":60},{"id":6,"g":"B","t":7.5,"d":0},
{"id":7,"g":"B","t":0,"d":0},{"id":7,"g":"B","t":1,"d":100},{"id":7,"g":"B","t":2,"d":180},{"id":7,"g":"B","t":3,"d":250},{"id":7,"g":"B","t":4,"d":280},{"id":7,"g":"B","t":5,"d":300},{"id":7,"g":"B","t":6,"d":260},{"id":7,"g":"B","t":7,"d":180},{"id":7,"g":"B","t":8,"d":80},{"id":7,"g":"B","t":8.5,"d":0},
{"id":8,"g":"B","t":0,"d":0},{"id":8,"g":"B","t":1,"d":90},{"id":8,"g":"B","t":2,"d":170},{"id":8,"g":"B","t":3,"d":240},{"id":8,"g":"B","t":4,"d":290},{"id":8,"g":"B","t":5,"d":320},{"id":8,"g":"B","t":6,"d":340},{"id":8,"g":"B","t":7,"d":300},{"id":8,"g":"B","t":8,"d":200},{"id":8,"g":"B","t":9,"d":80},{"id":8,"g":"B","t":9.5,"d":0},
{"id":9,"g":"B","t":0,"d":0},{"id":9,"g":"B","t":1,"d":70},{"id":9,"g":"B","t":2,"d":140},{"id":9,"g":"B","t":3,"d":200},{"id":9,"g":"B","t":4,"d":230},{"id":9,"g":"B","t":5,"d":250},{"id":9,"g":"B","t":6,"d":260},{"id":9,"g":"B","t":7,"d":240},{"id":9,"g":"B","t":8,"d":180},{"id":9,"g":"B","t":9,"d":100},{"id":9,"g":"B","t":10,"d":20},{"id":9,"g":"B","t":10.3,"d":0},
{"id":10,"g":"B","t":0,"d":0},{"id":10,"g":"B","t":1,"d":50},{"id":10,"g":"B","t":2,"d":100},{"id":10,"g":"B","t":3,"d":130},{"id":10,"g":"B","t":4,"d":150},{"id":10,"g":"B","t":5,"d":160},{"id":10,"g":"B","t":6,"d":140},{"id":10,"g":"B","t":7,"d":100},{"id":10,"g":"B","t":8,"d":40},{"id":10,"g":"B","t":8.5,"d":0},
{"id":11,"g":"B","t":0,"d":0},{"id":11,"g":"B","t":1,"d":110},{"id":11,"g":"B","t":2,"d":200},{"id":11,"g":"B","t":3,"d":270},{"id":11,"g":"B","t":4,"d":300},{"id":11,"g":"B","t":5,"d":280},{"id":11,"g":"B","t":6,"d":220},{"id":11,"g":"B","t":7,"d":120},{"id":11,"g":"B","t":7.8,"d":0},
{"id":12,"g":"B","t":0,"d":0},{"id":12,"g":"B","t":1,"d":80},{"id":12,"g":"B","t":2,"d":130},{"id":12,"g":"B","t":3,"d":180},{"id":12,"g":"B","t":4,"d":200},{"id":12,"g":"B","t":5,"d":210},{"id":12,"g":"B","t":6,"d":220},{"id":12,"g":"B","t":7,"d":200},{"id":12,"g":"B","t":8,"d":150},{"id":12,"g":"B","t":9,"d":80},{"id":12,"g":"B","t":10,"d":0},
{"id":13,"g":"B","t":0,"d":0},{"id":13,"g":"B","t":1,"d":60},{"id":13,"g":"B","t":2,"d":110},{"id":13,"g":"B","t":3,"d":150},{"id":13,"g":"B","t":4,"d":190},{"id":13,"g":"B","t":5,"d":230},{"id":13,"g":"B","t":6,"d":270},{"id":13,"g":"B","t":7,"d":310},{"id":13,"g":"B","t":8,"d":240},{"id":13,"g":"B","t":9,"d":150},{"id":13,"g":"B","t":10,"d":60},{"id":13,"g":"B","t":10.6,"d":0},
{"id":14,"g":"B","t":0,"d":0},{"id":14,"g":"B","t":1,"d":40},{"id":14,"g":"B","t":2,"d":80},{"id":14,"g":"B","t":3,"d":100},{"id":14,"g":"B","t":4,"d":120},{"id":14,"g":"B","t":5,"d":110},{"id":14,"g":"B","t":5.5,"d":60},{"id":14,"g":"B","t":6,"d":0}
],
"p19":[
{"id":1,"g":"A","t":0,"d":0},{"id":1,"g":"A","t":1,"d":10},{"id":1,"g":"A","t":2,"d":20},{"id":1,"g":"A","t":3,"d":15},{"id":1,"g":"A","t":4,"d":25},{"id":1,"g":"A","t":5,"d":10},{"id":1,"g":"A","t":5.3,"d":0},
{"id":2,"g":"C","t":0,"d":0},{"id":2,"g":"C","t":1,"d":80},{"id":2,"g":"C","t":2,"d":180},{"id":2,"g":"C","t":3,"d":280},{"id":2,"g":"C","t":4,"d":380},{"id":2,"g":"C","t":5,"d":430},{"id":2,"g":"C","t":6,"d":440},{"id":2,"g":"C","t":7,"d":450},{"id":2,"g":"C","t":8,"d":420},{"id":2,"g":"C","t":9,"d":300},{"id":2,"g":"C","t":10,"d":150},{"id":2,"g":"C","t":10.8,"d":0},
{"id":3,"g":"C","t":0,"d":0},{"id":3,"g":"C","t":1,"d":70},{"id":3,"g":"C","t":2,"d":170},{"id":3,"g":"C","t":3,"d":270},{"id":3,"g":"C","t":4,"d":370},{"id":3,"g":"C","t":5,"d":420},{"id":3,"g":"C","t":6,"d":430},{"id":3,"g":"C","t":7,"d":430},{"id":3,"g":"C","t":8,"d":440},{"id":3,"g":"C","t":9,"d":420},{"id":3,"g":"C","t":10,"d":300},{"id":3,"g":"C","t":11,"d":150},{"id":3,"g":"C","t":11.7,"d":0},
{"id":4,"g":"C","t":0,"d":0},{"id":4,"g":"C","t":1,"d":90},{"id":4,"g":"C","t":2,"d":190},{"id":4,"g":"C","t":3,"d":300},{"id":4,"g":"C","t":4,"d":400},{"id":4,"g":"C","t":5,"d":460},{"id":4,"g":"C","t":6,"d":470},{"id":4,"g":"C","t":7,"d":480},{"id":4,"g":"C","t":8,"d":470},{"id":4,"g":"C","t":9,"d":450},{"id":4,"g":"C","t":10,"d":400},{"id":4,"g":"C","t":11,"d":250},{"id":4,"g":"C","t":12,"d":100},{"id":4,"g":"C","t":12.5,"d":0},
{"id":5,"g":"C","t":0,"d":0},{"id":5,"g":"C","t":1,"d":80},{"id":5,"g":"C","t":2,"d":180},{"id":5,"g":"C","t":3,"d":290},{"id":5,"g":"C","t":4,"d":390},{"id":5,"g":"C","t":5,"d":450},{"id":5,"g":"C","t":6,"d":500},{"id":5,"g":"C","t":7,"d":510},{"id":5,"g":"C","t":8,"d":500},{"id":5,"g":"C","t":9,"d":480},{"id":5,"g":"C","t":10,"d":440},{"id":5,"g":"C","t":11,"d":330},{"id":5,"g":"C","t":12,"d":200},{"id":5,"g":"C","t":13,"d":50},{"id":5,"g":"C","t":13.2,"d":0},
{"id":6,"g":"C","t":0,"d":0},{"id":6,"g":"C","t":1,"d":60},{"id":6,"g":"C","t":2,"d":160},{"id":6,"g":"C","t":3,"d":260},{"id":6,"g":"C","t":4,"d":360},{"id":6,"g":"C","t":5,"d":420},{"id":6,"g":"C","t":6,"d":440},{"id":6,"g":"C","t":7,"d":440},{"id":6,"g":"C","t":8,"d":400},{"id":6,"g":"C","t":9,"d":250},{"id":6,"g":"C","t":9.8,"d":0},
{"id":7,"g":"C","t":0,"d":0},{"id":7,"g":"C","t":1,"d":75},{"id":7,"g":"C","t":2,"d":175},{"id":7,"g":"C","t":3,"d":275},{"id":7,"g":"C","t":4,"d":375},{"id":7,"g":"C","t":5,"d":430},{"id":7,"g":"C","t":6,"d":450},{"id":7,"g":"C","t":7,"d":460},{"id":7,"g":"C","t":8,"d":450},{"id":7,"g":"C","t":9,"d":430},{"id":7,"g":"C","t":10,"d":350},{"id":7,"g":"C","t":11,"d":200},{"id":7,"g":"C","t":12,"d":50},{"id":7,"g":"C","t":12.2,"d":0}
],
"p20":[
{"id":1,"g":"A","t":0,"d":0},{"id":1,"g":"A","t":0.5,"d":5},{"id":1,"g":"A","t":1,"d":8},{"id":1,"g":"A","t":2,"d":10},{"id":1,"g":"A","t":3,"d":9},{"id":1,"g":"A","t":4,"d":10},{"id":1,"g":"A","t":5,"d":7},{"id":1,"g":"A","t":5.6,"d":0},
{"id":2,"g":"B","t":0,"d":0},{"id":2,"g":"B","t":0.5,"d":6},{"id":2,"g":"B","t":1,"d":10},{"id":2,"g":"B","t":2,"d":15},{"id":2,"g":"B","t":3,"d":20},{"id":2,"g":"B","t":3.5,"d":22},{"id":2,"g":"B","t":4,"d":30},{"id":2,"g":"B","t":4.5,"d":45},{"id":2,"g":"B","t":5,"d":55},{"id":2,"g":"B","t":6,"d":70},{"id":2,"g":"B","t":6.5,"d":85},{"id":2,"g":"B","t":7,"d":92},{"id":2,"g":"B","t":7.5,"d":93},{"id":2,"g":"B","t":8,"d":85},{"id":2,"g":"B","t":8.5,"d":70},{"id":2,"g":"B","t":9,"d":50},{"id":2,"g":"B","t":9.5,"d":30},{"id":2,"g":"B","t":10,"d":10},{"id":2,"g":"B","t":10.2,"d":0}
]
},
"spacing":2,
"vconcat":[
{"spacing":8,"hconcat":[
{"width":140,"height":58,"data":{"name":"p1"},"mark":"line","encoding":{"x":{"field":"t","type":"quantitative","title":"Time (minutes)","scale":{"domain":[-0.7,15.9],"nice":false,"zero":false},"axis":{"values":[0,5,10,15]}},"y":{"field":"d","type":"quantitative","title":"Depth (m)","scale":{"domain":[-25,520],"reverse":true,"nice":false,"zero":false},"axis":{"values":[0,100,200,300,400,500]}},"detail":{"field":"id"},"color":{"field":"g","type":"nominal","legend":null,"scale":{"domain":["A","B","C","D"],"range":["#D9542B","#0E9C6E","#56B4E9","#55198B"]}}}},
{"width":140,"height":58,"data":{"name":"p2"},"mark":"line","encoding":{"x":{"field":"t","type":"quantitative","title":"Time (minutes)","scale":{"domain":[-0.7,14.5],"nice":false,"zero":false},"axis":{"values":[0,5,10]}},"y":{"field":"d","type":"quantitative","title":"Depth (m)","scale":{"domain":[-20,430],"reverse":true,"nice":false,"zero":false},"axis":{"values":[0,100,200,300,400]}},"detail":{"field":"id"},"color":{"field":"g","type":"nominal","legend":null,"scale":{"domain":["A","B","C","D"],"range":["#D9542B","#0E9C6E","#56B4E9","#55198B"]}}}},
{"width":140,"height":58,"data":{"name":"p3"},"mark":"line","encoding":{"x":{"field":"t","type":"quantitative","title":"Time (minutes)","scale":{"domain":[-0.65,13.6],"nice":false,"zero":false},"axis":{"values":[0,5,10]}},"y":{"field":"d","type":"quantitative","title":"Depth (m)","scale":{"domain":[-22,460],"reverse":true,"nice":false,"zero":false},"axis":{"values":[0,100,200,300,400]}},"detail":{"field":"id"},"color":{"field":"g","type":"nominal","legend":null,"scale":{"domain":["A","B","C","D"],"range":["#D9542B","#0E9C6E","#56B4E9","#55198B"]}}}},
{"width":140,"height":58,"data":{"name":"p4"},"mark":"line","encoding":{"x":{"field":"t","type":"quantitative","title":"Time (minutes)","scale":{"domain":[-0.9,18.9],"nice":false,"zero":false},"axis":{"values":[0,5,10,15]}},"y":{"field":"d","type":"quantitative","title":"Depth (m)","scale":{"domain":[-40,840],"reverse":true,"nice":false,"zero":false},"axis":{"values":[0,200,400,600,800]}},"detail":{"field":"id"},"color":{"field":"g","type":"nominal","legend":null,"scale":{"domain":["A","B","C","D"],"range":["#D9542B","#0E9C6E","#56B4E9","#55198B"]}}}}
]},
{"spacing":8,"hconcat":[
{"width":140,"height":58,"data":{"name":"p5"},"mark":"line","encoding":{"x":{"field":"t","type":"quantitative","title":"Time (minutes)","scale":{"domain":[-0.6,13.1],"nice":false,"zero":false},"axis":{"values":[0,4,8,12]}},"y":{"field":"d","type":"quantitative","title":"Depth (m)","scale":{"domain":[-20,420],"reverse":true,"nice":false,"zero":false},"axis":{"values":[0,100,200,300,400]}},"detail":{"field":"id"},"color":{"field":"g","type":"nominal","legend":null,"scale":{"domain":["A","B","C","D"],"range":["#D9542B","#0E9C6E","#56B4E9","#55198B"]}}}},
{"width":140,"height":58,"data":{"name":"p6"},"mark":"line","encoding":{"x":{"field":"t","type":"quantitative","title":"Time (minutes)","scale":{"domain":[-0.18,3.8],"nice":false,"zero":false},"axis":{"values":[0,1,2,3]}},"y":{"field":"d","type":"quantitative","title":"Depth (m)","scale":{"domain":[-5,105],"reverse":true,"nice":false,"zero":false},"axis":{"values":[0,25,50,75,100]}},"detail":{"field":"id"},"color":{"field":"g","type":"nominal","legend":null,"scale":{"domain":["A","B","C","D"],"range":["#D9542B","#0E9C6E","#56B4E9","#55198B"]}}}},
{"width":140,"height":58,"data":{"name":"p7"},"mark":"line","encoding":{"x":{"field":"t","type":"quantitative","title":"Time (minutes)","scale":{"domain":[-0.53,11.1],"nice":false,"zero":false},"axis":{"values":[0,2.5,5,7.5,10],"format":".1f"}},"y":{"field":"d","type":"quantitative","title":"Depth (m)","scale":{"domain":[-30,620],"reverse":true,"nice":false,"zero":false},"axis":{"values":[0,200,400,600]}},"detail":{"field":"id"},"color":{"field":"g","type":"nominal","legend":null,"scale":{"domain":["A","B","C","D"],"range":["#D9542B","#0E9C6E","#56B4E9","#55198B"]}}}},
{"width":140,"height":58,"data":{"name":"p8"},"mark":"line","encoding":{"x":{"field":"t","type":"quantitative","title":"Time (minutes)","scale":{"domain":[-0.8,16.8],"nice":false,"zero":false},"axis":{"values":[0,5,10,15]}},"y":{"field":"d","type":"quantitative","title":"Depth (m)","scale":{"domain":[-2,52],"reverse":true,"nice":false,"zero":false},"axis":{"values":[0,10,20,30,40,50]}},"detail":{"field":"id"},"color":{"field":"g","type":"nominal","legend":null,"scale":{"domain":["A","B","C","D"],"range":["#D9542B","#0E9C6E","#56B4E9","#55198B"]}}}}
]},
{"spacing":8,"hconcat":[
{"width":140,"height":58,"data":{"name":"p9"},"mark":"line","encoding":{"x":{"field":"t","type":"quantitative","title":"Time (minutes)","scale":{"domain":[-0.27,5.75],"nice":false,"zero":false},"axis":{"values":[0,2,4]}},"y":{"field":"d","type":"quantitative","title":"Depth (m)","scale":{"domain":[-5,105],"reverse":true,"nice":false,"zero":false},"axis":{"values":[0,25,50,75,100]}},"detail":{"field":"id"},"color":{"field":"g","type":"nominal","legend":null,"scale":{"domain":["A","B","C","D"],"range":["#D9542B","#0E9C6E","#56B4E9","#55198B"]}}}},
{"width":140,"height":58,"data":{"name":"p10"},"mark":"line","encoding":{"x":{"field":"t","type":"quantitative","title":"Time (minutes)","scale":{"domain":[-0.23,4.95],"nice":false,"zero":false},"axis":{"values":[0,1,2,3,4]}},"y":{"field":"d","type":"quantitative","title":"Depth (m)","scale":{"domain":[-3.5,73],"reverse":true,"nice":false,"zero":false},"axis":{"values":[0,20,40,60]}},"detail":{"field":"id"},"color":{"field":"g","type":"nominal","legend":null,"scale":{"domain":["A","B","C","D"],"range":["#D9542B","#0E9C6E","#56B4E9","#55198B"]}}}},
{"width":135,"height":58,"data":{"name":"p11"},"mark":"line","encoding":{"x":{"field":"t","type":"quantitative","title":"Time (minutes)","scale":{"domain":[-1.1,23.7],"nice":false,"zero":false},"axis":{"values":[0,5,10,15,20]}},"y":{"field":"d","type":"quantitative","title":"Depth (m)","scale":{"domain":[-50,1265],"reverse":true,"nice":false,"zero":false},"axis":{"values":[0,250,500,750,1000,1250],"minExtent":20,"maxExtent":20}},"detail":{"field":"id"},"color":{"field":"g","type":"nominal","legend":null,"scale":{"domain":["A","B","C","D"],"range":["#D9542B","#0E9C6E","#56B4E9","#55198B"]}}}},
{"width":140,"height":58,"data":{"name":"p12"},"mark":"line","encoding":{"x":{"field":"t","type":"quantitative","title":"Time (minutes)","scale":{"domain":[-0.75,15.5],"nice":false,"zero":false},"axis":{"values":[0,5,10,15]}},"y":{"field":"d","type":"quantitative","title":"Depth (m)","scale":{"domain":[-28,615],"reverse":true,"nice":false,"zero":false},"axis":{"values":[0,200,400,600]}},"detail":{"field":"id"},"color":{"field":"g","type":"nominal","legend":null,"scale":{"domain":["A","B","C","D"],"range":["#D9542B","#0E9C6E","#56B4E9","#55198B"]}}}}
]},
{"spacing":8,"hconcat":[
{"width":140,"height":58,"data":{"name":"p13"},"mark":"line","encoding":{"x":{"field":"t","type":"quantitative","title":"Time (minutes)","scale":{"domain":[-0.62,13],"nice":false,"zero":false},"axis":{"values":[0,2.5,5,7.5,10,12.5],"format":".1f"}},"y":{"field":"d","type":"quantitative","title":"Depth (m)","scale":{"domain":[-20,430],"reverse":true,"nice":false,"zero":false},"axis":{"values":[0,100,200,300,400]}},"detail":{"field":"id"},"color":{"field":"g","type":"nominal","legend":null,"scale":{"domain":["A","B","C","D"],"range":["#D9542B","#0E9C6E","#56B4E9","#55198B"]}}}},
{"width":140,"height":58,"data":{"name":"p14"},"mark":"line","encoding":{"x":{"field":"t","type":"quantitative","title":"Time (minutes)","scale":{"domain":[-0.8,17],"nice":false,"zero":false},"axis":{"values":[0,5,10,15]}},"y":{"field":"d","type":"quantitative","title":"Depth (m)","scale":{"domain":[-45,1000],"reverse":true,"nice":false,"zero":false},"axis":{"values":[0,250,500,750]}},"detail":{"field":"id"},"color":{"field":"g","type":"nominal","legend":null,"scale":{"domain":["A","B","C","D"],"range":["#D9542B","#0E9C6E","#56B4E9","#55198B"]}}}},
{"width":140,"height":58,"data":{"name":"p15"},"mark":"line","encoding":{"x":{"field":"t","type":"quantitative","title":"Time (minutes)","scale":{"domain":[-0.85,17.9],"nice":false,"zero":false},"axis":{"values":[0,5,10,15]}},"y":{"field":"d","type":"quantitative","title":"Depth (m)","scale":{"domain":[-45,950],"reverse":true,"nice":false,"zero":false},"axis":{"values":[0,250,500,750]}},"detail":{"field":"id"},"color":{"field":"g","type":"nominal","legend":null,"scale":{"domain":["A","B","C","D"],"range":["#D9542B","#0E9C6E","#56B4E9","#55198B"]}}}},
{"width":140,"height":58,"data":{"name":"p16"},"mark":"line","encoding":{"x":{"field":"t","type":"quantitative","title":"Time (minutes)","scale":{"domain":[-1,21],"nice":false,"zero":false},"axis":{"values":[0,5,10,15,20]}},"y":{"field":"d","type":"quantitative","title":"Depth (m)","scale":{"domain":[-30,650],"reverse":true,"nice":false,"zero":false},"axis":{"values":[0,200,400,600]}},"detail":{"field":"id"},"color":{"field":"g","type":"nominal","legend":null,"scale":{"domain":["A","B","C","D"],"range":["#D9542B","#0E9C6E","#56B4E9","#55198B"]}}}}
]},
{"spacing":8,"hconcat":[
{"width":140,"height":58,"data":{"name":"p17"},"mark":"line","encoding":{"x":{"field":"t","type":"quantitative","title":"Time (minutes)","scale":{"domain":[-0.7,14.7],"nice":false,"zero":false},"axis":{"values":[0,5,10]}},"y":{"field":"d","type":"quantitative","title":"Depth (m)","scale":{"domain":[-30,640],"reverse":true,"nice":false,"zero":false},"axis":{"values":[0,200,400,600]}},"detail":{"field":"id"},"color":{"field":"g","type":"nominal","legend":null,"scale":{"domain":["A","B","C","D"],"range":["#D9542B","#0E9C6E","#56B4E9","#55198B"]}}}},
{"width":140,"height":58,"data":{"name":"p18"},"mark":"line","encoding":{"x":{"field":"t","type":"quantitative","title":"Time (minutes)","scale":{"domain":[-0.5,11.1],"nice":false,"zero":false},"axis":{"values":[0,3,6,9]}},"y":{"field":"d","type":"quantitative","title":"Depth (m)","scale":{"domain":[-18,380],"reverse":true,"nice":false,"zero":false},"axis":{"values":[0,100,200,300]}},"detail":{"field":"id"},"color":{"field":"g","type":"nominal","legend":null,"scale":{"domain":["A","B","C","D"],"range":["#D9542B","#0E9C6E","#56B4E9","#55198B"]}}}},
{"width":140,"height":58,"data":{"name":"p19"},"mark":"line","encoding":{"x":{"field":"t","type":"quantitative","title":"Time (minutes)","scale":{"domain":[-0.65,13.9],"nice":false,"zero":false},"axis":{"values":[0,5,10]}},"y":{"field":"d","type":"quantitative","title":"Depth (m)","scale":{"domain":[-25,540],"reverse":true,"nice":false,"zero":false},"axis":{"values":[0,200,400]}},"detail":{"field":"id"},"color":{"field":"g","type":"nominal","legend":null,"scale":{"domain":["A","B","C","D"],"range":["#D9542B","#0E9C6E","#56B4E9","#55198B"]}}}},
{"width":140,"height":58,"data":{"name":"p20"},"mark":"line","encoding":{"x":{"field":"t","type":"quantitative","title":"Time (minutes)","scale":{"domain":[-0.5,10.7],"nice":false,"zero":false},"axis":{"values":[0,3,6,9]}},"y":{"field":"d","type":"quantitative","title":"Depth (m)","scale":{"domain":[-5,105],"reverse":true,"nice":false,"zero":false},"axis":{"values":[0,25,50,75,100]}},"detail":{"field":"id"},"color":{"field":"g","type":"nominal","legend":null,"scale":{"domain":["A","B","C","D"],"range":["#D9542B","#0E9C6E","#56B4E9","#55198B"]}}}}
]}
]
}
